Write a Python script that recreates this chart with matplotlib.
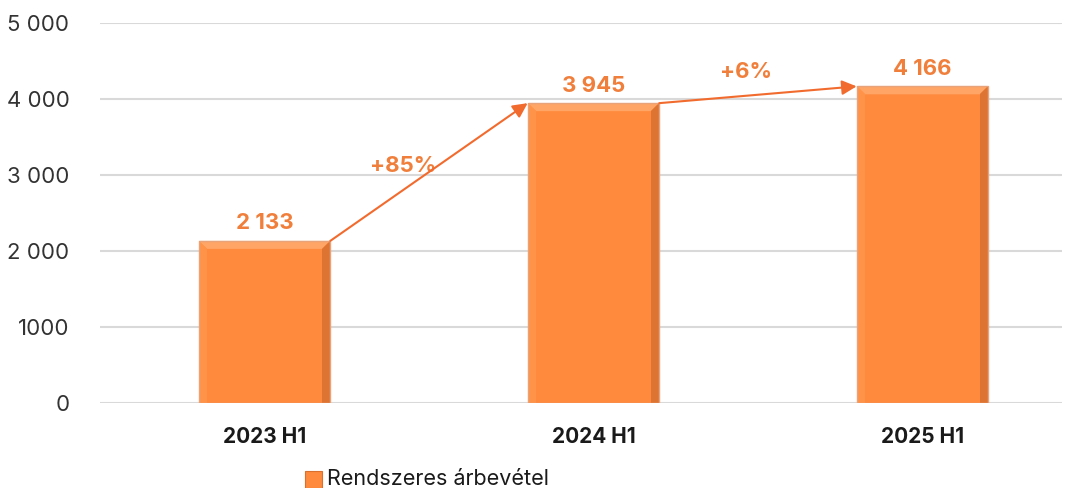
import matplotlib
matplotlib.use('Agg')
import matplotlib.pyplot as plt
from matplotlib.patches import Polygon, Rectangle

categories = ['2023 H1', '2024 H1', '2025 H1']
values = [2133, 3945, 4166]
value_labels = ['2 133', '3 945', '4 166']
growth_labels = ['+85%', '+6%']
y_ticks = [0, 1000, 2000, 3000, 4000, 5000]
y_tick_labels = ['0', '1000', '2 000', '3 000', '4 000', '5 000']
legend_label = 'Rendszeres árbevétel'

plt.rcParams['font.family'] = ['Inter', 'DejaVu Sans']

bar_color = '#FF8A3D'
label_color = '#F07F3C'
arrow_color = '#F26B2E'
bar_w = 0.4

fig = plt.figure(figsize=(10.76, 4.88), dpi=100)
ax = fig.add_axes([0.0929, 0.174, 0.894, 0.779])
ax.set_xlim(-0.5, 2.424)
ax.set_ylim(0, 5000)

ax.set_yticks(y_ticks)
ax.set_yticklabels(y_tick_labels, fontsize=16, color='#333333')
ax.yaxis.grid(True, color='#D9D9D9', linewidth=1.5)
ax.set_axisbelow(True)
ax.tick_params(axis='y', length=0, pad=22)
ax.tick_params(axis='x', length=0, pad=17)
for s in ax.spines.values():
    s.set_visible(False)

x = list(range(len(categories)))
bars = ax.bar(x, values, width=bar_w, color=bar_color, zorder=2)
ax.set_xticks(x)
ax.set_xticklabels(categories, fontsize=15, fontweight='bold', color='#1a1a1a')

# bevel look on each bar
bx = 0.026
by = 105
for rect in bars:
    x0 = rect.get_x()
    x1 = x0 + rect.get_width()
    h = rect.get_height()
    top = Polygon([(x0, h), (x1, h), (x1 - bx, h - by), (x0 + bx, h - by)],
                  closed=True, color='#FFA566', zorder=3, lw=0)
    right = Polygon([(x1, h), (x1, 0), (x1 - bx, 0), (x1 - bx, h - by)],
                    closed=True, color='#DE7432', zorder=3, lw=0)
    left = Polygon([(x0, h), (x0, 0), (x0 + bx, 0), (x0 + bx, h - by)],
                   closed=True, color='#FF9448', zorder=3, lw=0)
    ax.add_patch(top)
    ax.add_patch(right)
    ax.add_patch(left)
    ax.add_patch(Rectangle((x0, 0), x1 - x0, h, fill=False,
                           edgecolor='#E9A37A', lw=1.0, zorder=4))

for i, v in enumerate(values):
    ax.text(i, v + 100, value_labels[i], ha='center', va='bottom',
            fontsize=16, fontweight='bold', color=label_color)

# growth arrows between bar tops
label_pos = [0.37, 0.44]  # where along each arrow the label sits
for i in range(len(values) - 1):
    start = (i + bar_w / 2, values[i])
    end = (i + 1 - bar_w / 2, values[i + 1])
    ax.annotate('', xy=end, xytext=start,
                arrowprops=dict(arrowstyle='-|>', color=arrow_color, lw=1.5,
                                mutation_scale=22, shrinkA=0, shrinkB=0),
                zorder=5)
    t = label_pos[i]
    lx = start[0] + t * (end[0] - start[0])
    ly = start[1] + t * (end[1] - start[1])
    ax.annotate(growth_labels[i], xy=(lx, ly), xytext=(0, 24),
                textcoords='offset pixels', ha='center', va='center',
                fontsize=16, fontweight='bold', color=label_color)

# legend
fig.patches.append(Rectangle((0.2835, 0.0), 0.0155, 0.035, transform=fig.transFigure,
                             facecolor=bar_color, edgecolor='#D9702E', lw=0.8))
fig.text(0.304, 0.018, legend_label, fontsize=15.5, color='#1a1a1a', va='center')

fig.savefig('out.png', dpi=100)
